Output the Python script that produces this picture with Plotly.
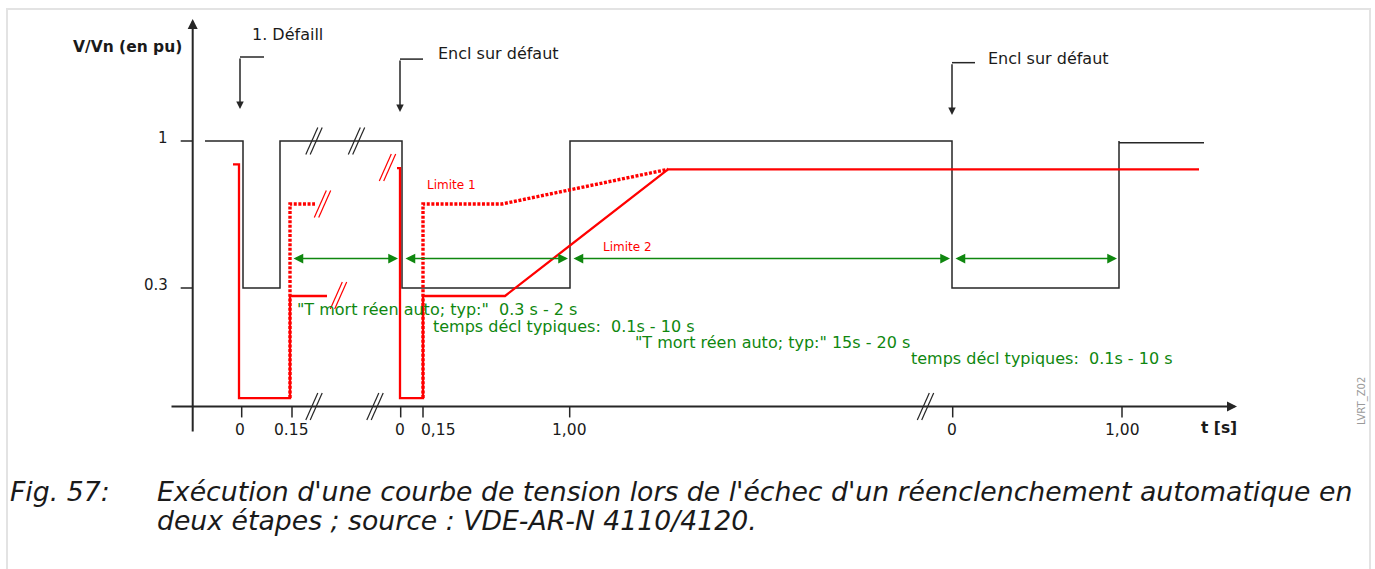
import plotly.graph_objects as go

# ---------------- data (x: schematic time position, y: voltage in pu) ----------------
voltage_x = [205, 243, 243, 280, 280, 402, 402, 570, 570, 952, 952, 1119, 1119]
voltage_y = [1.0, 1.0, 0.3, 0.3, 1.0, 1.0, 0.3, 0.3, 1.0, 1.0, 0.3, 0.3, 1.0]
voltage_end_x = [1119, 1204]
voltage_end_y = [0.992, 0.992]

limit2_first_x = [233, 239, 239, 290, 290, 327]
limit2_first_y = [0.889, 0.889, -0.224, -0.224, 0.262, 0.262]
limit1_first_x = [290, 290, 315]
limit1_first_y = [-0.224, 0.7, 0.7]
limit2_second_x = [397, 400, 400, 423, 423, 505, 668, 1199]
limit2_second_y = [0.871, 0.871, -0.224, -0.224, 0.262, 0.262, 0.865, 0.865]
limit1_second_x = [423, 423, 502, 668]
limit1_second_y = [-0.224, 0.7, 0.7, 0.865]

time_axis_level = -0.264
time_axis_start = 170
time_axis_end = 1237
volt_axis_pos = 192.7
volt_axis_bottom = -0.39
volt_axis_top = 1.581

time_tick_pos = [241.7, 292, 400.7, 423, 569.7, 952.7, 1122]
time_tick_text = ["0", "0.15", "0", "0,15", "1,00", "0", "1,00"]
time_label_pos = [240, 291, 400, 438, 569, 952, 1122]
time_label_level = -0.376

volt_tick_vals = [1.0, 0.3]
volt_tick_text = ["1", "0.3"]

interval_start = [292, 404, 572, 954]
interval_end = [398, 568, 950, 1117]
interval_level = 0.44

green_texts = [
    '"T mort réen auto; typ:"\u00a0 0.3 s - 2 s',
    'temps décl typiques:\u00a0 0.1s - 10 s',
    '"T mort réen auto; typ:" 15s - 20 s',
    'temps décl typiques:\u00a0 0.1s - 10 s',
]
green_x = [295, 431, 633, 909]
green_y = [0.2, 0.116, 0.04, -0.038]

limit_texts = ["Limite 1", "Limite 2"]
limit_x = [425, 601]
limit_y = [0.79, 0.497]

event_texts = ["1. Défaill", "Encl sur défaut", "Encl sur défaut"]
event_x = [240, 400, 952]
event_elbow_x = [264, 423, 975]
event_elbow_y = [1.4, 1.39, 1.373]
event_tip_y = [1.152, 1.138, 1.124]
event_text_x = [250, 436, 986]
event_text_y = [1.505, 1.419, 1.395]

break_black_x = [314, 356.5, 314, 375, 925.5]
break_black_y = [1.0, 1.0, -0.264, -0.264, -0.264]
break_red_x = [322.5, 387.5, 338.5]
break_red_y = [0.7, 0.874, 0.264]

caption_label = "Fig. 57:"
caption_lines = [
    "Exécution d'une courbe de tension lors de l'échec d'un réenclenchement automatique en",
    "deux étapes ; source : VDE-AR-N 4110/4120.",
]
caption_y = [-0.667, -0.805]

# ---------------- styling / scale ----------------
W, H = 1375, 569
PX_PER_PU = 210.0
Y_TOP = 1 + 141 / PX_PER_PU
Y_BOT = 1 - (H - 141) / PX_PER_PU
FONT = "DejaVu Sans"
BLACK = "#262626"
RED = "#ff0000"
GREEN = "#0f870f"

fig = go.Figure()

def line(x, y, color, width, dash=None):
    fig.add_trace(go.Scatter(x=x, y=y, mode="lines", hoverinfo="skip",
                             line=dict(color=color, width=width, dash=dash),
                             showlegend=False))

# voltage curve
line(voltage_x, voltage_y, BLACK, 1.5)
line(voltage_end_x, voltage_end_y, BLACK, 1.5)

# limits
line(limit2_first_x, limit2_first_y, RED, 2.3)
line(limit2_second_x, limit2_second_y, RED, 2.3)
line(limit1_first_x, limit1_first_y, RED, 3.4, "3px,1.6px")
line(limit1_second_x, limit1_second_y, RED, 3.4, "3px,1.6px")

# time axis ticks
tx, ty = [], []
for p in time_tick_pos:
    tx += [p, p, None]
    ty += [time_axis_level, time_axis_level - 11 / PX_PER_PU, None]
line(tx, ty, BLACK, 1.5)

# voltage axis ticks
vx, vy = [], []
for v in volt_tick_vals:
    vx += [volt_axis_pos - 12, volt_axis_pos, None]
    vy += [v, v, None]
line(vx, vy, BLACK, 1.5)

# break marks "//"
def breaks(xs, ys, color):
    bx, by = [], []
    for cx, cy in zip(xs, ys):
        for off in (-2.2, 2.2):
            bx += [cx + off - 6, cx + off + 6, None]
            by += [cy - 13.5 / PX_PER_PU, cy + 13.5 / PX_PER_PU, None]
    line(bx, by, color, 1.2)

breaks(break_black_x, break_black_y, BLACK)
breaks(break_red_x, break_red_y, RED)

# event pointer elbows
for ex, elx, ely in zip(event_x, event_elbow_x, event_elbow_y):
    line([elx, ex], [ely, ely], BLACK, 1.5)

annotations = []

# main axes with arrows
annotations.append(dict(x=time_axis_end, y=time_axis_level, ax=time_axis_start, ay=time_axis_level,
                        xref="x", yref="y", axref="x", ayref="y", text="", showarrow=True,
                        arrowhead=2, arrowwidth=2, arrowsize=1.0, arrowcolor=BLACK))
annotations.append(dict(x=volt_axis_pos, y=volt_axis_top, ax=volt_axis_pos, ay=volt_axis_bottom,
                        xref="x", yref="y", axref="x", ayref="y", text="", showarrow=True,
                        arrowhead=2, arrowwidth=2, arrowsize=1.0, arrowcolor=BLACK))

# event arrows
for ex, ely, tip in zip(event_x, event_elbow_y, event_tip_y):
    annotations.append(dict(x=ex, y=tip, ax=ex, ay=ely, xref="x", yref="y", axref="x", ayref="y",
                            text="", showarrow=True, arrowhead=2, arrowwidth=1.5, arrowsize=1.0,
                            arrowcolor=BLACK))
for t, x, y in zip(event_texts, event_text_x, event_text_y):
    annotations.append(dict(x=x, y=y, text=t, showarrow=False, xanchor="left", yanchor="middle",
                            font=dict(family=FONT, size=16, color="#1a1a1a")))

# interval arrows
for a, b in zip(interval_start, interval_end):
    annotations.append(dict(x=b, y=interval_level, ax=a, ay=interval_level, xref="x", yref="y",
                            axref="x", ayref="y", text="", showarrow=True, arrowhead=2,
                            arrowside="end+start", arrowwidth=1.5, arrowsize=1.3, arrowcolor=GREEN))

for t, x, y in zip(green_texts, green_x, green_y):
    annotations.append(dict(x=x, y=y, text=t, showarrow=False, xanchor="left", yanchor="middle",
                            font=dict(family=FONT, size=16, color=GREEN)))

for t, x, y in zip(limit_texts, limit_x, limit_y):
    annotations.append(dict(x=x, y=y, text=t, showarrow=False, xanchor="left", yanchor="middle",
                            font=dict(family=FONT, size=12, color=RED)))

# tick labels
for t, x in zip(time_tick_text, time_label_pos):
    annotations.append(dict(x=x, y=time_label_level, text=t, showarrow=False, xanchor="center",
                            yanchor="middle", font=dict(family=FONT, size=15.5, color="#1a1a1a")))
for t, v in zip(volt_tick_text, volt_tick_vals):
    annotations.append(dict(x=170, y=v + 0.012, text=t, showarrow=False, xanchor="right",
                            yanchor="middle", font=dict(family=FONT, size=15, color="#1a1a1a")))

# axis titles
annotations.append(dict(x=184, y=1.448, text="<b>V/Vn (en pu)</b>", showarrow=False,
                        xanchor="right", yanchor="middle",
                        font=dict(family=FONT, size=15.5, color="#1a1a1a")))
annotations.append(dict(x=1239, y=-0.367, text="<b>t [s]</b>", showarrow=False,
                        xanchor="right", yanchor="middle",
                        font=dict(family=FONT, size=15.5, color="#1a1a1a")))
annotations.append(dict(x=1362, y=-0.238, text="LVRT_Z02", showarrow=False, textangle=-90,
                        xanchor="center", yanchor="middle",
                        font=dict(family=FONT, size=10, color="#9a9a9a")))

# caption
annotations.append(dict(x=8, y=caption_y[0], text="<i>" + caption_label + "</i>", showarrow=False,
                        xanchor="left", yanchor="middle",
                        font=dict(family=FONT, size=26.7, color="#1a1a1a")))
for t, y in zip(caption_lines, caption_y):
    annotations.append(dict(x=155, y=y, text="<i>" + t + "</i>", showarrow=False,
                            xanchor="left", yanchor="middle",
                            font=dict(family=FONT, size=26.7, color="#1a1a1a")))

fig.update_layout(
    width=W, height=H,
    margin=dict(l=0, r=0, t=0, b=0, pad=0),
    paper_bgcolor="white", plot_bgcolor="white",
    xaxis=dict(range=[0, W], visible=False, fixedrange=True),
    yaxis=dict(range=[Y_BOT, Y_TOP], visible=False, fixedrange=True),
    annotations=annotations,
    shapes=[dict(type="rect", xref="paper", yref="paper",
                 x0=7 / W, x1=1370 / W, y0=-0.05, y1=1 - 9 / H,
                 line=dict(color="#e3e3e3", width=2), layer="below")],
    showlegend=False,
)

fig.write_html("out.html", config={"displayModeBar": False},
               post_script="document.body.style.margin='0';document.body.style.overflow='hidden';")
